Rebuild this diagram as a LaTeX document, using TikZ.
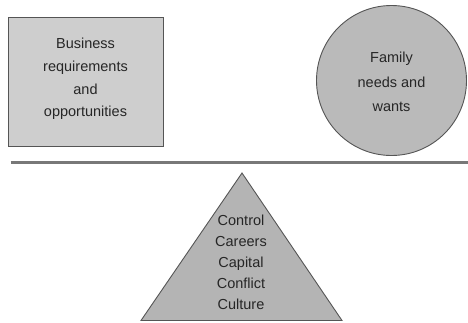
\documentclass[tikz,border=0pt]{standalone}
\usepackage{fontspec}
\setmainfont{Liberation Sans}
\definecolor{boxfill}{RGB}{206,206,206}
\definecolor{circfill}{RGB}{186,186,186}
\definecolor{trifill}{RGB}{180,180,180}
\definecolor{edgecol}{RGB}{85,85,85}
\definecolor{rulecol}{RGB}{120,120,120}
\begin{document}
\begin{tikzpicture}[x=1pt,y=1pt,
  shapeline/.style={draw=edgecol, line width=0.9pt},
  lbl/.style={align=center, font=\fontsize{14.5}{22.7}\selectfont, text=black!85}]
\useasboundingbox (0,0) rectangle (468,-322);
\node[shapeline, fill=boxfill, rectangle, minimum width=155pt, minimum height=129pt, inner sep=0pt] (box) at (85.5,-81.5) {};
\node[lbl] (boxtext) at (85.5,-79) {Business\\requirements\\and\\opportunities};
\node[shapeline, fill=circfill, circle, minimum size=150pt, inner sep=0pt] (circ) at (391.5,-80.5) {};
\node[lbl, font=\fontsize{14.5}{24.5}\selectfont] (circtext) at (391.5,-82) {Family\\needs and\\wants};
\coordinate (apex) at (242,-173);
\coordinate (bl) at (141,-320.5);
\coordinate (br) at (342,-320.5);
\path[shapeline, fill=trifill] (apex) -- (bl) -- (br) -- cycle;
\node[lbl, font=\fontsize{14.5}{21}\selectfont] (tritext) at (241,-262.5) {Control\\Careers\\Capital\\Conflict\\Culture};
\coordinate (l1) at (10.5,-162.5);
\coordinate (l2) at (468,-162.5);
\draw[rulecol, line width=2.2pt] (l1) -- (l2);
\end{tikzpicture}
\end{document}
